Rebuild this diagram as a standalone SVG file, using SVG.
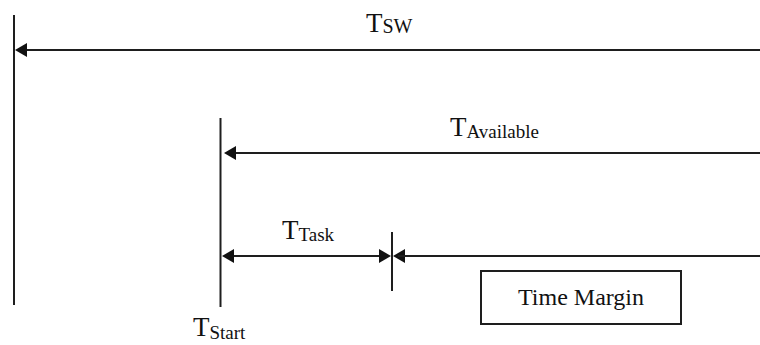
<svg xmlns="http://www.w3.org/2000/svg" width="760" height="345" viewBox="0 0 760 345">
<style>
.ln{stroke:#1e1e1e;stroke-width:2;fill:none}
.ah{fill:#111}
text{font-family:"Liberation Serif","Times New Roman",serif;fill:#111}
.big{font-size:27px}
.sub{font-size:19px}
</style>
<rect width="760" height="345" fill="#fff"/>
<g id="connectors">
<line class="ln" x1="14" y1="15" x2="14" y2="305"/>
<line class="ln" x1="20" y1="50" x2="760" y2="50"/>
<polygon class="ah" points="15,50 27,43 27,57"/>
<line class="ln" x1="220.5" y1="118" x2="220.5" y2="307"/>
<line class="ln" x1="230" y1="153" x2="760" y2="153"/>
<polygon class="ah" points="224,153 236,146 236,160"/>
<line class="ln" x1="228" y1="256" x2="386" y2="256"/>
<polygon class="ah" points="222,256 234,249 234,263"/>
<polygon class="ah" points="391,256 379,249 379,263"/>
<line class="ln" x1="392" y1="232" x2="392" y2="291"/>
<polygon class="ah" points="393,256 405,249 405,263"/>
<line class="ln" x1="398" y1="256" x2="760" y2="256"/>
</g>
<g id="label-tsw"><text x="366" y="32"><tspan class="big">T</tspan><tspan font-size="20" dy="1">SW</tspan></text></g>
<g id="label-tavailable"><text x="450" y="136"><tspan class="big">T</tspan><tspan class="sub" dy="2">Available</tspan></text></g>
<g id="label-ttask"><text x="282" y="239"><tspan class="big">T</tspan><tspan class="sub" dy="2">Task</tspan></text></g>
<g id="label-tstart"><text x="193" y="336"><tspan class="big">T</tspan><tspan class="sub" dy="3">Start</tspan></text></g>
<g id="time-margin">
<rect x="481" y="271" width="200" height="53" fill="#fff" stroke="#1e1e1e" stroke-width="2"/>
<text x="581" y="305" font-size="24" text-anchor="middle">Time Margin</text>
</g>
</svg>
